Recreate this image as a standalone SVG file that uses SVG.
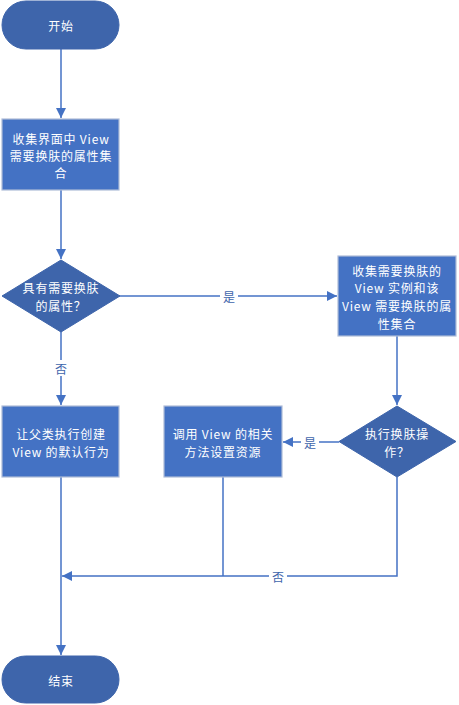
<svg xmlns="http://www.w3.org/2000/svg" width="459" height="705" viewBox="0 0 459 705">
<defs>
<style>
.term{fill:#3e65ab;stroke:#3e65ab;stroke-width:1}
.proc{fill:#4472c4;stroke:#aebcd8;stroke-width:1.2}
.dec{fill:#3e65ab;stroke:#3e65ab;stroke-width:1}
.t{font-family:"Noto Sans CJK SC","Microsoft YaHei",sans-serif;font-size:12px;letter-spacing:0.8px;fill:#ffffff;text-anchor:middle;dominant-baseline:central}
.lbl{font-family:"Noto Sans CJK SC",sans-serif;font-size:12px;fill:#3e65ab;text-anchor:middle;dominant-baseline:central}
.c{fill:none;stroke:#4472c4;stroke-width:1.5}
</style>
<marker id="ah" viewBox="0 0 10 10" refX="10" refY="5" markerWidth="10" markerHeight="10" markerUnits="userSpaceOnUse" orient="auto">
<path d="M0,0 L10,5 L0,10 z" fill="#4472c4"/>
</marker>
</defs>
<rect width="459" height="705" fill="#ffffff"/>
<g id="connectors">
<path class="c" d="M61,49 V118" marker-end="url(#ah)"/>
<path class="c" d="M61,190 V259" marker-end="url(#ah)"/>
<path class="c" d="M119,296 H337" marker-end="url(#ah)"/>
<path class="c" d="M61,331 V405" marker-end="url(#ah)"/>
<path class="c" d="M397,336 V405" marker-end="url(#ah)"/>
<path class="c" d="M339,442 H283" marker-end="url(#ah)"/>
<path class="c" d="M397,477 V576 H62" marker-end="url(#ah)"/>
<path class="c" d="M223,477 V576"/>
<path class="c" d="M61,477 V655" marker-end="url(#ah)"/>
<rect x="220" y="288" width="18" height="16" fill="#ffffff"/>
<text class="lbl" x="229" y="296">是</text>
<rect x="52" y="360" width="18" height="16" fill="#ffffff"/>
<text class="lbl" x="61" y="368">否</text>
<rect x="301" y="434" width="18" height="16" fill="#ffffff"/>
<text class="lbl" x="310" y="442">是</text>
<rect x="269" y="568" width="18" height="16" fill="#ffffff"/>
<text class="lbl" x="278" y="576">否</text>
</g>
<g id="start">
<rect class="term" x="2" y="1" width="117" height="48" rx="24" ry="24"/>
<text class="t" x="61" y="25">开始</text>
</g>
<g id="collect">
<rect class="proc" x="2" y="119" width="117" height="71"/>
<text class="t" x="61" y="138">收集界面中 View</text>
<text class="t" x="61" y="155">需要换肤的属性集</text>
<text class="t" x="61" y="172">合</text>
</g>
<g id="hasAttr">
<polygon class="dec" points="61,260 120,296 61,332 2,296"/>
<text class="t" x="61" y="287">具有需要换肤</text>
<text class="t" x="61" y="305">的属性？</text>
</g>
<g id="collectView">
<rect class="proc" x="338" y="256" width="118" height="80"/>
<text class="t" x="397" y="270">收集需要换肤的</text>
<text class="t" x="397" y="287">View 实例和该</text>
<text class="t" x="397" y="305">View 需要换肤的属</text>
<text class="t" x="397" y="323">性集合</text>
</g>
<g id="parentDefault">
<rect class="proc" x="2" y="406" width="117" height="71"/>
<text class="t" x="61" y="433">让父类执行创建</text>
<text class="t" x="61" y="451">View 的默认行为</text>
</g>
<g id="setRes">
<rect class="proc" x="164" y="406" width="118" height="71"/>
<text class="t" x="223" y="433">调用 View 的相关</text>
<text class="t" x="223" y="451">方法设置资源</text>
</g>
<g id="doSkin">
<polygon class="dec" points="397,406 456,441.5 397,477 339,441.5"/>
<text class="t" x="397" y="433">执行换肤操</text>
<text class="t" x="397" y="451">作？</text>
</g>
<g id="end">
<rect class="term" x="2" y="656" width="117" height="47" rx="23.5" ry="23.5"/>
<text class="t" x="61" y="680">结束</text>
</g>
</svg>
